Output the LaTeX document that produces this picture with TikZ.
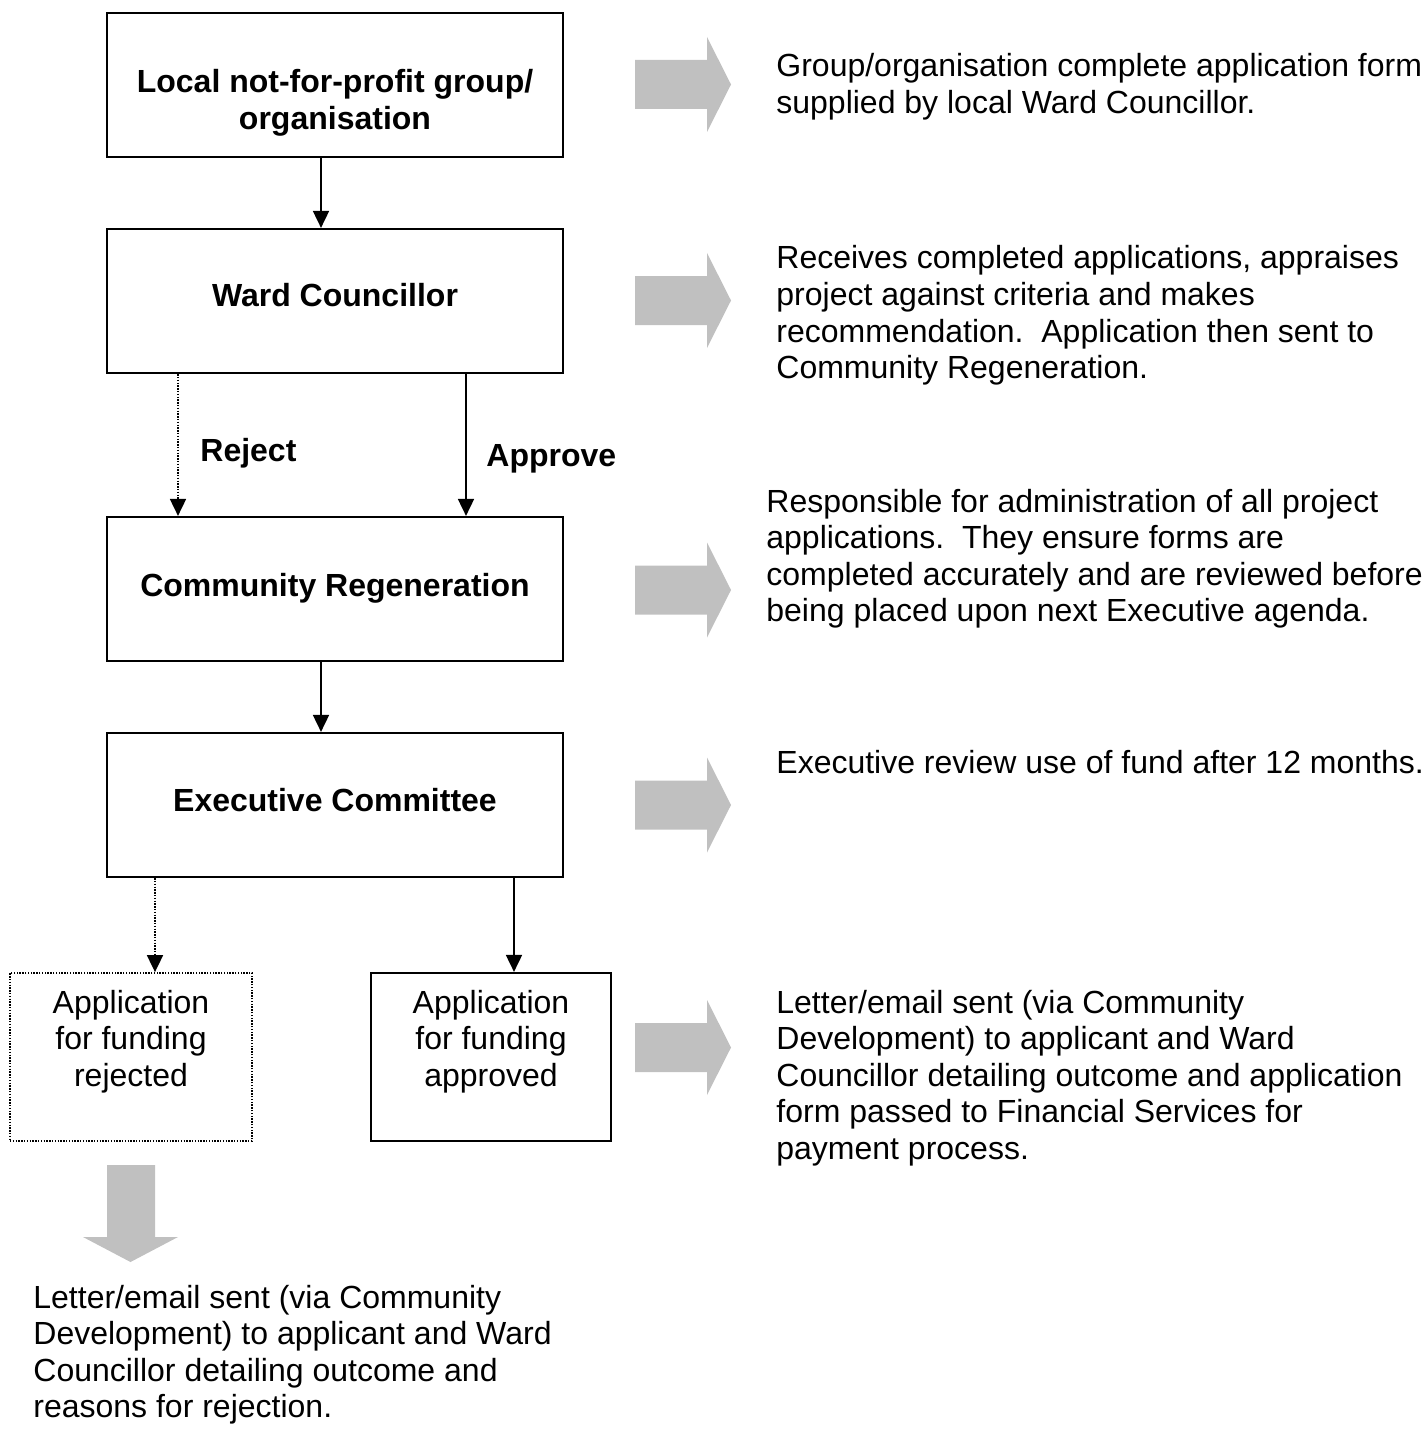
\documentclass[tikz,border=0pt]{standalone}
\usepackage{fontspec}
\setmainfont{Liberation Sans}
\usetikzlibrary{arrows.meta}
\definecolor{arrowgray}{RGB}{192,192,192}
\newcommand{\ltxt}[1]{\parbox[t]{330pt}{\raggedright\fontsize{16pt}{18.3pt}\selectfont #1}}
\newcommand{\ctxt}[2]{\parbox[t]{#1}{\centering\fontsize{16pt}{18.3pt}\selectfont #2}}
\begin{document}
\begin{tikzpicture}[x=0.5pt,y=-0.5pt,
  box/.style={draw, line width=1.1pt, minimum width=228pt, minimum height=72pt, inner sep=0pt},
  smallbox/.style={draw, line width=1.1pt, minimum width=120pt, minimum height=84pt, inner sep=0pt},
  dotbox/.style={draw, line width=0.9pt, dash pattern=on 0.7pt off 0.7pt, minimum width=121pt, minimum height=84pt, inner sep=0pt},
  txt/.style={inner sep=0pt, anchor=base west},
  ctx/.style={inner sep=0pt, anchor=base},
  arr/.style={line width=0.9pt, -{Triangle[length=8.5pt,width=8pt]}},
  dotarr/.style={line width=0.9pt, dash pattern=on 0.7pt off 0.7pt, -{Triangle[length=8.5pt,width=8pt]}},
  grayright/.pic={\fill[arrowgray] (0,-24.5) -- (72,-24.5) -- (72,-47.5) -- (96,0) -- (72,47.5) -- (72,24.5) -- (0,24.5) -- cycle;}
]
\useasboundingbox (0,0) rectangle (1425,1439);

% main boxes
\node[box] (b1) at (335,85) {};
\node[box] (b2) at (335,301) {};
\node[box] (b3) at (335,589) {};
\node[box] (b4) at (335,805) {};
\node[dotbox] (rej) at (131,1057) {};
\node[smallbox] (app) at (491,1057) {};

% box texts
\node[ctx] (t1) at (335,93) {\ctxt{228pt}{\bfseries Local not-for-profit group/\\organisation}};
\node[ctx] (t2) at (335,306) {\ctxt{228pt}{\bfseries Ward Councillor}};
\node[ctx] (t3) at (335,596) {\ctxt{228pt}{\bfseries Community Regeneration}};
\node[ctx] (t4) at (335,811) {\ctxt{228pt}{\bfseries Executive Committee}};
\node[ctx] (t5) at (131,1013) {\ctxt{121pt}{Application\\for funding\\rejected}};
\node[ctx] (t6) at (491,1013) {\ctxt{120pt}{Application\\for funding\\approved}};

% connectors
\draw[arr] ([xshift=-7pt]b1.south) -- ([xshift=-7pt]b2.north);
\draw[dotarr] ([xshift=-78.5pt]b2.south) -- ([xshift=-78.5pt]b3.north);
\draw[arr] ([xshift=65.5pt]b2.south) -- ([xshift=65.5pt]b3.north);
\draw[arr] ([xshift=-7pt]b3.south) -- ([xshift=-7pt]b4.north);
\draw[dotarr] ([xshift=-90pt]b4.south) -- ([xshift=12pt]rej.north);
\draw[arr] ([xshift=89.5pt]b4.south) -- ([xshift=11.5pt]app.north);

% connector labels
\node[txt] (lrej) at (200,461) {\fontsize{16pt}{18.3pt}\selectfont\bfseries Reject};
\node[txt] (lapp) at (486,466) {\fontsize{16pt}{18.3pt}\selectfont\bfseries Approve};

% gray arrows
\pic at (635,84.5) {grayright};
\pic at (635,300.5) {grayright};
\pic at (635,590) {grayright};
\pic at (635,805) {grayright};
\pic at (635,1047.5) {grayright};
\fill[arrowgray] (107,1165) -- (155,1165) -- (155,1237) -- (178,1237) -- (130.5,1262) -- (83,1237) -- (107,1237) -- cycle;

% side texts
\node[txt] (d1) at (776,77) {\ltxt{Group/organisation complete application form\\supplied by local Ward Councillor.}};
\node[txt] (d2) at (776,269) {\ltxt{Receives completed applications, appraises\\project against criteria and makes\\recommendation.\ \ Application then sent to\\Community Regeneration.}};
\node[txt] (d3) at (766,512) {\ltxt{Responsible for administration of all project\\applications.\ \ They ensure forms are\\completed accurately and are reviewed before\\being placed upon next Executive agenda.}};
\node[txt] (d4) at (776,773) {\ltxt{Executive review use of fund after 12 months.}};
\node[txt] (d5) at (776,1013) {\ltxt{Letter/email sent (via Community\\Development) to applicant and Ward\\Councillor detailing outcome and application\\form passed to Financial Services for\\payment process.}};
\node[txt] (d6) at (33,1308) {\ltxt{Letter/email sent (via Community\\Development) to applicant and Ward\\Councillor detailing outcome and\\reasons for rejection.}};
\end{tikzpicture}
\end{document}
